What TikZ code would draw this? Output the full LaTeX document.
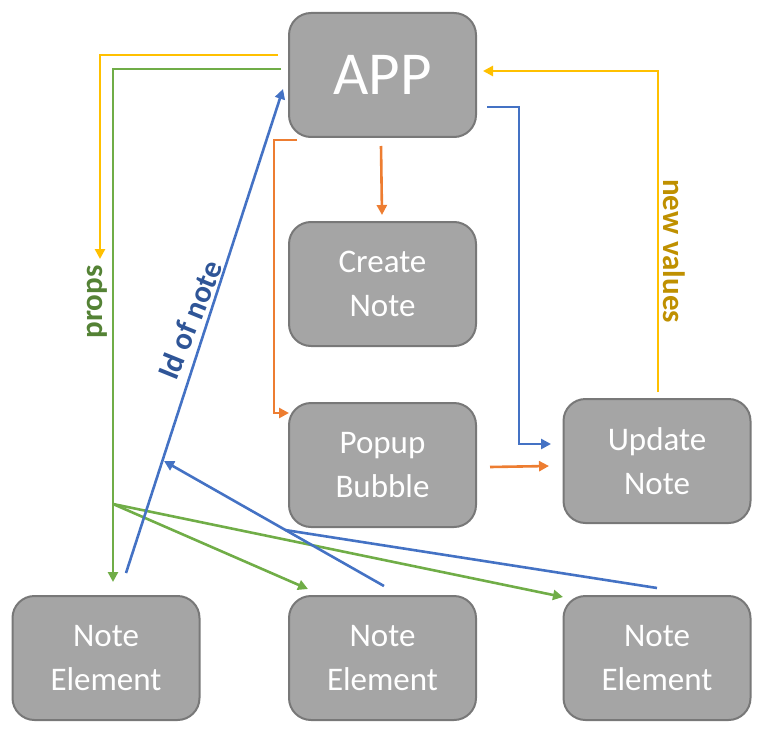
\documentclass[tikz,border=0pt]{standalone}
\usepackage{fontspec}
\setmainfont{Carlito}
\usetikzlibrary{arrows.meta,calc}
\definecolor{boxfill}{HTML}{A5A5A5}
\definecolor{boxline}{HTML}{787878}
\definecolor{cyel}{HTML}{FFC000}
\definecolor{cgreen}{HTML}{70AD47}
\definecolor{cblue}{HTML}{4472C4}
\definecolor{corange}{HTML}{ED7D31}
\definecolor{tgreen}{HTML}{548235}
\definecolor{tblue}{HTML}{2F5597}
\definecolor{tgold}{HTML}{BF9000}
\tikzset{
  box/.style={draw=boxline, fill=boxfill, line width=2pt, rounded corners=22pt,
    minimum width=187pt, minimum height=124pt, inner sep=0pt, text=white,
    align=center, font=\fontsize{33}{44}\selectfont},
  conn/.style={line width=2.6pt, -{Triangle[length=10pt,width=10pt]}},
  plain/.style={line width=2.6pt},
  lbl/.style={font=\fontsize{31}{36}\selectfont\bfseries, inner sep=0pt}
}
\begin{document}
\begin{tikzpicture}[x=1pt,y=-1pt]
\useasboundingbox (0,0) rectangle (767,738);
% boxes
\node[box, font=\fontsize{61}{72}\selectfont] (app) at (382.5,75) {APP};
\node[box] (create) at (382.5,284) {Create\\Note};
\node[box] (popup) at (382.5,465) {Popup\\Bubble};
\node[box] (update) at (657,461) {Update\\Note};
\node[box] (ne1) at (106,658) {Note\\Element};
\node[box] (ne2) at (382.5,658) {Note\\Element};
\node[box] (ne3) at (657,658) {Note\\Element};
% free ends
\coordinate (yS) at (278,55);
\coordinate (yE) at (100,259);
\coordinate (gS) at (281,69);
\coordinate (gB) at (113,504);
\coordinate (gE1) at (113,582);
\coordinate (gE2) at (308,589);
\coordinate (gE3) at (563,597);
\coordinate (bS1) at (126,573);
\coordinate (bE1) at (283,89);
\coordinate (bS2) at (384,586);
\coordinate (bE2) at (164,461);
\coordinate (bS3) at (657,588);
\coordinate (bJ) at (285,530);
\coordinate (bAS) at (487,107);
\coordinate (bAE) at (551,444);
\coordinate (oS1) at (381,146);
\coordinate (oE1) at (382,215);
\coordinate (oS2) at (297,140);
\coordinate (oE2) at (289,413);
\coordinate (oS3) at (490,467);
\coordinate (oE3) at (549,466);
\coordinate (yuS) at (658,392);
\coordinate (yuE) at (483,71);
% yellow props
\draw[conn, cyel] (yS) -| (yE);
% green props
\draw[plain, cgreen] (gS) -| (gB);
\draw[conn, cgreen] (gB) -- (gE1);
\draw[conn, cgreen] (gB) -- (gE2);
\draw[conn, cgreen] (gB) -- (gE3);
% blue id of note
\draw[conn, cblue] (bS1) -- (bE1);
\draw[conn, cblue] (bS2) -- (bE2);
\draw[plain, cblue] (bS3) -- (bJ);
\draw[conn, cblue] (bAS) -- (bAS -| 519,0) |- (bAE);
% orange
\draw[conn, corange] (oS1) -- (oE1);
\draw[conn, corange] (oS2) -- (oS2 -| 274,0) |- (oE2);
\draw[conn, corange] (oS3) -- (oE3);
% yellow new values
\draw[conn, cyel] (yuS) |- (yuE);
% labels
\node[lbl, text=tgreen, rotate=90] (lprops) at (97,302) {props};
\node[lbl, text=tblue, rotate=68] (lid) at (190,320) {Id of note};
\node[lbl, text=tgold, rotate=-90] (lnew) at (674,251) {new values};
\end{tikzpicture}
\end{document}
